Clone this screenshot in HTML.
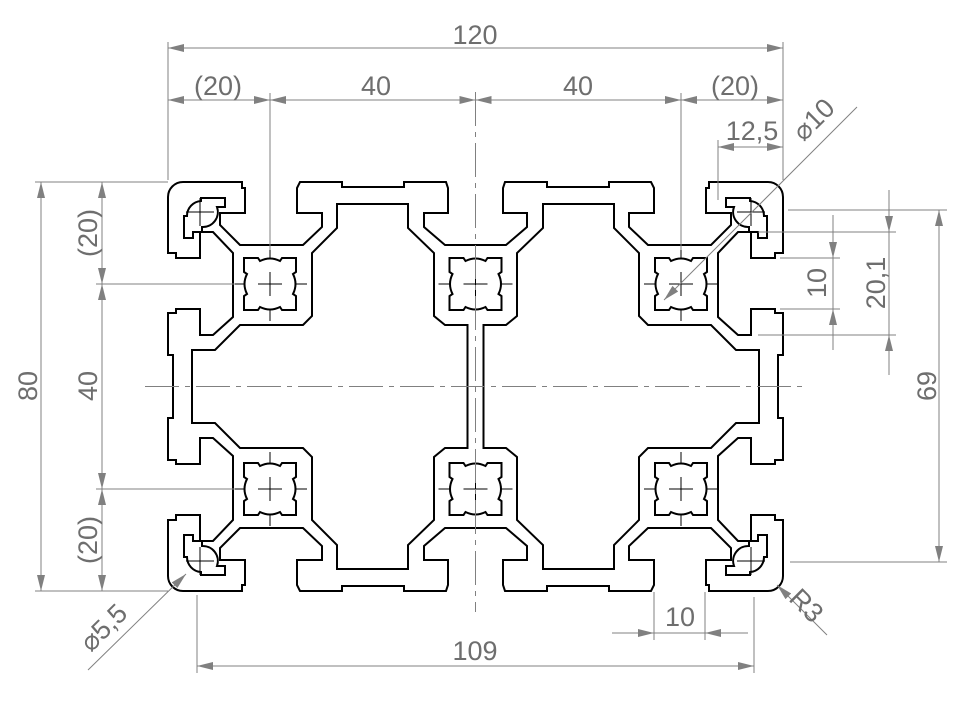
<!DOCTYPE html>
<html><head><meta charset="utf-8"><style>
html,body{margin:0;padding:0;background:#fff;}
svg{display:block;}
text{font-family:"Liberation Sans","DejaVu Sans",sans-serif;fill:#6e6e6e;font-size:27px;text-anchor:middle;}
</style></head><body>
<svg width="960" height="706" viewBox="0 0 960 706" xmlns="http://www.w3.org/2000/svg">
<defs>
<marker id="a" viewBox="0 0 16 8" refX="16" refY="4" markerWidth="16" markerHeight="8" markerUnits="userSpaceOnUse" orient="auto-start-reverse">
<path d="M0,0 L16,4 L0,8 Z" fill="#808080"/></marker>
<g id="q">
<polyline fill="none" stroke="#000" stroke-width="2" points="173,386.5 173,355 168,355 168,313 176,313 176,309 200,309 200,335 213,335 233,317 233,253 213,232 200,232 200,258 176,258 176,253 168,253 168,197"/>
<path fill="none" stroke="#000" stroke-width="2" d="M168,197 A15,15 0 0 1 183,182 L242,182 242,188 245,188 245,213 220,213 220,225 240,245 303,245 322,227 322,213 297,213 297,188 300,182 342,182 342,187 404,187 404,182 446,182 448,188 448,213 424,213 424,227 445,245 475.5,245"/>
<polyline fill="none" stroke="#000" stroke-width="2" points="192,386.5 192,350 215,350 240,325 303,325 312,316 312,253 337,228 337,204 408,204 408,228 434,253 434,316 445,325 467.5,325 467.5,386.5"/>
<path fill="none" stroke="#000" stroke-width="2" d="M201,198 H225 V207 H217 A15,15 0 0 1 202,227 V232 H193 V238 H184 V216 H187 A15,15 0 0 1 201,201 Z"/>
<path fill="none" stroke="#000" stroke-width="1" d="M186,212 H214 M200,198 V226"/>
</g>
<g id="b">
<path fill="none" stroke="#000" stroke-width="2" d="M-26,-26 H-12 L-10,-23 Q0,-28 10,-23 L12,-26 H26 V-12 L23,-10 Q28,0 23,10 L26,12 V26 H12 L10,23 Q0,28 -10,23 L-12,26 H-26 V12 L-23,10 Q-28,0 -23,-10 L-26,-12 Z"/>
<path fill="none" stroke="#000" stroke-width="1" d="M-12,0 H12 M0,-12 V12 M-37,0 H-26 M26,0 H37 M0,-37 V-26 M0,26 V37"/>
</g>
</defs>
<use href="#q"/>
<use href="#q" transform="translate(951,0) scale(-1,1)"/>
<use href="#q" transform="translate(0,773) scale(1,-1)"/>
<use href="#q" transform="translate(951,773) scale(-1,-1)"/>
<use href="#b" x="270" y="284"/><use href="#b" x="475.5" y="284"/><use href="#b" x="681" y="284"/>
<use href="#b" x="270" y="489"/><use href="#b" x="475.5" y="489"/><use href="#b" x="681" y="489"/>

<g stroke="#808080" stroke-width="1" fill="none">
<path d="M145,386.5 H805" stroke-dasharray="34 6 5 6"/>
<path d="M475.5,92 V612" stroke-dasharray="34 6 5 6"/>
<path d="M168,42 V180 M783,42 V180 M270,93 V250 M681,93 V250 M718,140 V200"/>
<path d="M35,182 H168 M96,284 H235 M96,489 H235 M35,591 H168"/>
<path d="M788,210 H947 M758,232 H896 M780,258 H840 M780,309 H840 M758,335 H896 M790,562 H947"/>
<path d="M197,595 V673 M754,597 V673 M654,592 V640 M705,592 V640"/>
<line x1="168" y1="48" x2="783" y2="48" marker-start="url(#a)" marker-end="url(#a)"/>
<line x1="168" y1="100" x2="270" y2="100" marker-start="url(#a)" marker-end="url(#a)"/>
<line x1="270" y1="100" x2="475.5" y2="100" marker-start="url(#a)" marker-end="url(#a)"/>
<line x1="475.5" y1="100" x2="681" y2="100" marker-start="url(#a)" marker-end="url(#a)"/>
<line x1="681" y1="100" x2="783" y2="100" marker-start="url(#a)" marker-end="url(#a)"/>
<line x1="718" y1="147" x2="783" y2="147" marker-start="url(#a)" marker-end="url(#a)"/>
<line x1="857" y1="107" x2="664" y2="300" marker-end="url(#a)"/>
<line x1="41" y1="182" x2="41" y2="591" marker-start="url(#a)" marker-end="url(#a)"/>
<line x1="102" y1="182" x2="102" y2="284" marker-start="url(#a)" marker-end="url(#a)"/>
<line x1="102" y1="284" x2="102" y2="489" marker-start="url(#a)" marker-end="url(#a)"/>
<line x1="102" y1="489" x2="102" y2="591" marker-start="url(#a)" marker-end="url(#a)"/>
<line x1="939" y1="210" x2="939" y2="562" marker-start="url(#a)" marker-end="url(#a)"/>
<line x1="889" y1="190" x2="889" y2="232" marker-end="url(#a)"/>
<line x1="889" y1="232" x2="889" y2="335"/>
<line x1="889" y1="375" x2="889" y2="335" marker-end="url(#a)"/>
<line x1="833" y1="215" x2="833" y2="258" marker-end="url(#a)"/>
<line x1="833" y1="258" x2="833" y2="309"/>
<line x1="833" y1="350" x2="833" y2="309" marker-end="url(#a)"/>
<line x1="197" y1="666" x2="754" y2="666" marker-start="url(#a)" marker-end="url(#a)"/>
<line x1="612" y1="633" x2="654" y2="633" marker-end="url(#a)"/>
<line x1="654" y1="633" x2="705" y2="633"/>
<line x1="748" y1="633" x2="705" y2="633" marker-end="url(#a)"/>
<line x1="827" y1="635" x2="777" y2="585" marker-end="url(#a)"/>
<line x1="88" y1="670" x2="186" y2="574" marker-end="url(#a)"/>
</g>

<text x="475" y="44">120</text>
<text x="218" y="95">(20)</text>
<text x="376" y="95">40</text>
<text x="578" y="95">40</text>
<text x="735" y="95">(20)</text>
<text x="752" y="140">12,5</text>
<text transform="translate(820,126) rotate(-45)">⌀10</text>
<text transform="translate(37,386) rotate(-90)">80</text>
<text transform="translate(97,233) rotate(-90)">(20)</text>
<text transform="translate(97,386) rotate(-90)">40</text>
<text transform="translate(97,540) rotate(-90)">(20)</text>
<text transform="translate(826,283) rotate(-90)">10</text>
<text transform="translate(885,283) rotate(-90)">20,1</text>
<text transform="translate(936,386) rotate(-90)">69</text>
<text x="680" y="626">10</text>
<text x="475" y="660">109</text>
<text transform="translate(800,612) rotate(45)">R3</text>
<text transform="translate(110,634) rotate(-45)">⌀5,5</text>
</svg>
</body></html>
